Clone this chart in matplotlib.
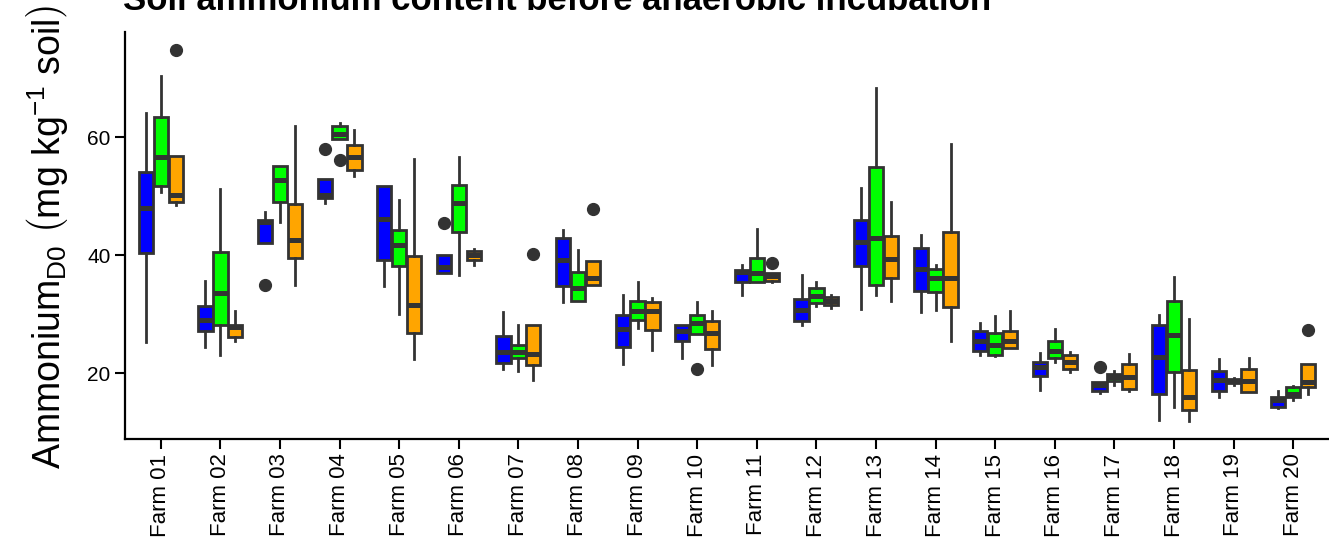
import matplotlib
matplotlib.use("Agg")
from matplotlib import pyplot as plt

plt.rcParams["font.family"] = ["Liberation Sans", "DejaVu Sans"]
plt.rcParams["mathtext.fontset"] = "custom"
plt.rcParams["mathtext.rm"] = "Liberation Sans"
plt.rcParams["mathtext.it"] = "Liberation Sans:italic"
plt.rcParams["mathtext.bf"] = "Liberation Sans:bold"

farms = ["Farm %02d" % i for i in range(1, 21)]

# (whisker low, q1, median, q3, whisker high) per farm
group_blue = [
    (25.2, 40.4, 48.1, 54.1, 64.2), (24.4, 27.1, 29.0, 31.3, 35.7),
    (42.1, 42.1, 45.6, 45.9, 47.3), (48.9, 49.7, 50.2, 53.0, 53.0),
    (34.8, 39.2, 46.1, 51.7, 51.7), (37.0, 37.0, 38.0, 40.0, 40.0),
    (20.6, 21.7, 23.6, 26.3, 30.3), (32.1, 34.8, 39.2, 42.9, 44.2),
    (21.5, 24.5, 27.4, 29.9, 33.2), (22.5, 25.4, 27.1, 28.2, 28.2),
    (33.2, 35.4, 37.1, 37.5, 38.4), (28.1, 28.9, 30.7, 32.6, 36.6),
    (30.9, 38.1, 42.2, 45.9, 51.4), (30.4, 33.9, 37.7, 41.2, 43.5),
    (23.1, 23.8, 25.5, 27.2, 28.5), (17.2, 19.5, 21.1, 21.9, 23.4),
    (16.6, 16.9, 17.9, 18.4, 18.4), (12.1, 16.5, 22.8, 28.2, 29.9),
    (16.0, 16.9, 18.8, 20.4, 22.3), (14.0, 14.2, 15.5, 16.0, 16.9),
]
group_green = [
    (50.7, 51.8, 56.6, 63.4, 70.5), (23.0, 28.2, 33.6, 40.5, 51.3),
    (45.6, 49.0, 52.7, 55.2, 55.2), (59.7, 59.7, 60.5, 61.9, 62.4),
    (30.0, 38.1, 41.8, 44.3, 49.3), (36.6, 44.0, 48.9, 51.9, 56.6),
    (20.4, 22.5, 23.6, 24.8, 28.2), (32.2, 32.2, 34.4, 37.1, 40.9),
    (27.6, 29.0, 30.5, 32.3, 35.4), (26.7, 26.7, 28.5, 29.8, 32.0),
    (35.4, 35.4, 37.0, 39.5, 44.5), (31.3, 31.9, 33.1, 34.4, 35.5),
    (33.2, 35.0, 42.9, 54.9, 68.4), (30.7, 33.7, 36.1, 37.7, 38.4),
    (22.9, 23.0, 24.7, 26.8, 29.6), (21.8, 22.5, 23.8, 25.4, 27.5),
    (17.9, 18.6, 19.3, 19.9, 20.4), (14.2, 20.2, 26.5, 32.3, 36.3),
    (18.0, 18.3, 18.7, 19.0, 19.1), (15.5, 15.9, 16.5, 17.6, 17.8),
]
group_orange = [
    (48.6, 49.1, 50.2, 56.9, 56.9), (25.4, 26.2, 27.8, 28.2, 30.5),
    (35.0, 39.5, 42.6, 48.7, 62.0), (53.4, 54.5, 56.7, 58.7, 61.3),
    (22.3, 26.8, 31.5, 39.9, 56.4), (38.4, 39.2, 40.1, 40.8, 41.1),
    (18.9, 21.3, 23.3, 28.2, 28.2), (34.9, 35.0, 36.1, 39.1, 39.1),
    (23.9, 27.3, 30.5, 32.1, 32.7), (21.3, 24.0, 26.8, 28.8, 30.6),
    (35.4, 35.6, 36.4, 36.9, 36.9), (31.0, 31.6, 32.3, 32.9, 33.3),
    (32.2, 36.1, 39.4, 43.2, 49.1), (25.5, 31.2, 36.1, 44.0, 58.8),
    (24.2, 24.2, 25.5, 27.2, 30.5), (20.2, 20.6, 21.9, 23.1, 23.6),
    (16.9, 17.3, 19.3, 21.6, 23.3), (11.9, 13.7, 15.9, 20.5, 29.2),
    (16.8, 16.8, 18.7, 20.7, 22.6), (16.5, 17.6, 18.4, 21.6, 21.6),
]

# outliers: (farm index, group index, value)
outliers = [
    (0, 2, 74.9), (2, 0, 35.0), (3, 0, 58.1), (3, 1, 56.2), (5, 0, 45.5),
    (6, 2, 40.2), (7, 2, 47.9), (9, 1, 20.6), (10, 2, 38.7), (16, 0, 21.1),
    (19, 2, 27.3),
]

groups = [group_blue, group_green, group_orange]
colors = ["#0000FF", "#00FF00", "#FFA500"]
offsets = [-0.25, 0.0, 0.25]

fig = plt.figure(figsize=(13.29, 5.41), dpi=100)
ax = fig.add_axes([125 / 1329, 1 - 439 / 541, 1 - 125 / 1329, (439 - 32) / 541])

edge = "#333333"
for g, (data, col, off) in enumerate(zip(groups, colors, offsets)):
    stats = []
    for i, (lo, q1, med, q3, hi) in enumerate(data):
        fl = [v for (fi, gi, v) in outliers if fi == i and gi == g]
        stats.append(dict(whislo=lo, q1=q1, med=med, q3=q3, whishi=hi, fliers=fl))
    pos = [i + off for i in range(len(data))]
    ax.bxp(stats, positions=pos, widths=0.24, patch_artist=True,
           showcaps=False,
           boxprops=dict(facecolor=col, edgecolor=edge, linewidth=2.0),
           medianprops=dict(color=edge, linewidth=3.6, solid_capstyle="butt"),
           whiskerprops=dict(color=edge, linewidth=2.0),
           flierprops=dict(marker="o", markerfacecolor=edge,
                           markeredgecolor=edge, markersize=8.5))

ax.set_xlim(-0.6, 19.6)
ax.set_ylim(8.8, 77.9)
ax.set_xticks(range(len(farms)))
ax.set_xticklabels(farms, rotation=90, fontsize=16)
ax.set_yticks([20, 40, 60])
ax.tick_params(axis="both", length=7, width=1.5, colors="black")
ax.tick_params(axis="y", labelsize=15)
for s in ["top", "right"]:
    ax.spines[s].set_visible(False)
for s in ["left", "bottom"]:
    ax.spines[s].set_linewidth(1.6)

fig.text(47 / 1329, 1 - 237 / 541,
         r"Ammonium$_{\mathrm{D0}}$ $\left(\mathrm{mg\ kg^{-1}\ soil}\right)$",
         rotation=90, ha="center", va="center", fontsize=27)
fig.text(123 / 1329, 1 - 10 / 541,
         "Soil ammonium content before anaerobic incubation",
         ha="left", va="baseline", fontsize=25, fontweight="bold")

fig.savefig("out.png", dpi=100)
